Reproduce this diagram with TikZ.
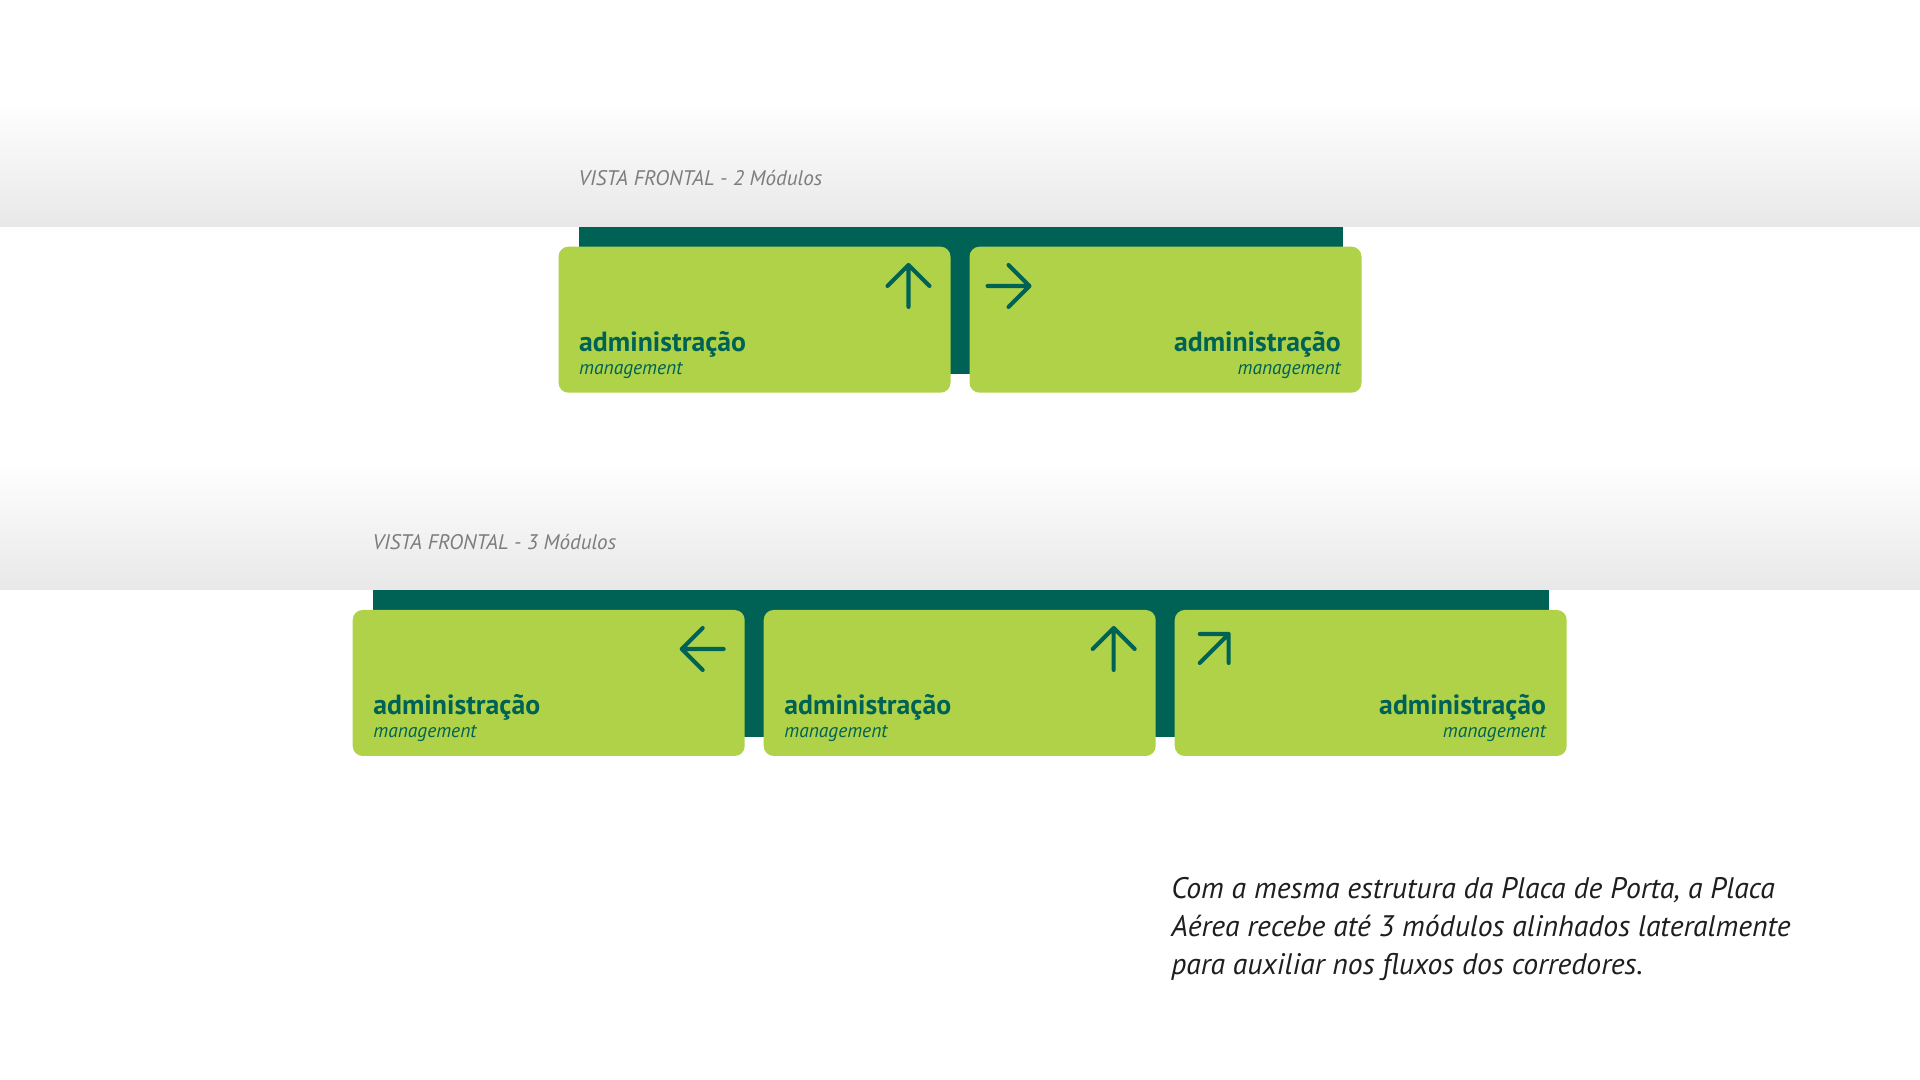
\documentclass[tikz,border=0pt]{standalone}
\usepackage{fontspec}
\setmainfont{PT Sans}
\usetikzlibrary{positioning}

\definecolor{leaf}{RGB}{175,210,72}
\definecolor{pine}{RGB}{0,98,84}
\definecolor{haze}{RGB}{232,232,232}
\definecolor{caption}{RGB}{125,125,125}
\definecolor{ink}{RGB}{30,30,30}

\begin{document}
\begin{tikzpicture}[
    module/.style={fill=leaf, rounded corners=0.1cm, minimum width=3.92cm, minimum height=1.46cm, inner sep=0, outer sep=0},
    title/.style={text=pine, inner sep=0, font=\fontsize{7.9}{8}\selectfont\bfseries},
    subtitle/.style={text=pine, inner sep=0, font=\fontsize{5.55}{6}\selectfont\itshape},
    view/.style={text=caption, inner sep=0, font=\fontsize{6}{7}\selectfont\itshape},
    glyph/.style={draw=pine, line width=1.15pt, line cap=round, line join=round},
    arrow up/.pic={\draw[glyph] (0,-0.21) -- (0,0.21) (-0.21,0) -- (0,0.21) -- (0.21,0);},
    arrow ne/.pic={\draw[glyph] (-0.145,-0.145) -- (0.145,0.145) (-0.145,0.145) -- (0.145,0.145) -- (0.145,-0.145);}
]

% Page
\fill[white] (0,0) rectangle (19.2,10.8);
\useasboundingbox (0,0) rectangle (19.2,10.8);

% Grey bands
\shade[top color=white, bottom color=haze] (0,8.533) rectangle (19.2,9.8);
\shade[top color=white, bottom color=haze] (0,4.90) rectangle (19.2,6.17);

% Front view, 2 modules
\node[view, anchor=base west] (view2) at (5.78,8.94) {VISTA FRONTAL - 2 Módulos};
\fill[pine] (5.785,7.06) rectangle (13.425,8.533);
\node[module, anchor=north west] (m2a) at (5.585,8.333) {};
\node[module, right=0.19cm of m2a] (m2b) {};

\node[title, anchor=base west] (t2a) at ([shift={(0.2,0.41)}]m2a.south west) {administração};
\node[subtitle, anchor=base west] (s2a) at ([shift={(0.2,0.185)}]m2a.south west) {management};
\node[title, anchor=base east] (t2b) at ([shift={(-0.2,0.41)}]m2b.south east) {administração};
\node[subtitle, anchor=base east] (s2b) at ([shift={(-0.2,0.185)}]m2b.south east) {management};

\pic at ([shift={(-0.42,-0.393)}]m2a.north east) {arrow up};
\pic[rotate=-90] at ([shift={(0.39,-0.393)}]m2b.north west) {arrow up};

% Front view, 3 modules
\node[view, anchor=base west] (view3) at (3.72,5.30) {VISTA FRONTAL - 3 Módulos};
\fill[pine] (3.727,3.43) rectangle (15.487,4.90);
\node[module, anchor=north west] (m3a) at (3.527,4.70) {};
\node[module, right=0.19cm of m3a] (m3b) {};
\node[module, right=0.19cm of m3b] (m3c) {};

\node[title, anchor=base west] (t3a) at ([shift={(0.2,0.41)}]m3a.south west) {administração};
\node[subtitle, anchor=base west] (s3a) at ([shift={(0.2,0.185)}]m3a.south west) {management};
\node[title, anchor=base west] (t3b) at ([shift={(0.2,0.41)}]m3b.south west) {administração};
\node[subtitle, anchor=base west] (s3b) at ([shift={(0.2,0.185)}]m3b.south west) {management};
\node[title, anchor=base east] (t3c) at ([shift={(-0.2,0.41)}]m3c.south east) {administração};
\node[subtitle, anchor=base east] (s3c) at ([shift={(-0.2,0.185)}]m3c.south east) {management};

\pic[rotate=90] at ([shift={(-0.42,-0.39)}]m3a.north east) {arrow up};
\pic at ([shift={(-0.42,-0.39)}]m3b.north east) {arrow up};
\pic at ([shift={(0.395,-0.385)}]m3c.north west) {arrow ne};

% Note
\node[anchor=north west, align=left, inner sep=0, text=ink, font=\fontsize{8.45}{10.9}\selectfont\itshape] (note) at (11.706,2.035)
  {Com a mesma estrutura da Placa de Porta, a Placa\\Aérea recebe até 3 módulos alinhados lateralmente\\para auxiliar nos fluxos dos corredores.};

\end{tikzpicture}
\end{document}
